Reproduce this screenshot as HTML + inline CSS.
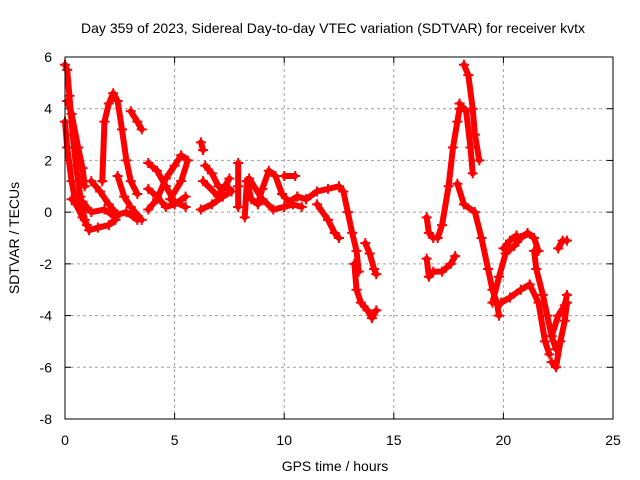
<!DOCTYPE html>
<html><head><meta charset="utf-8"><style>
body{margin:0;background:#fff}
svg{display:block;font-family:"Liberation Sans",sans-serif;font-size:14px}
</style></head><body>
<svg id="chart" width="640" height="480">
<rect width="640" height="480" fill="#fff"/>
<text x="333" y="33" text-anchor="middle">Day 359 of 2023, Sidereal Day-to-day VTEC variation (SDTVAR) for receiver kvtx</text>
<text x="335" y="471" text-anchor="middle">GPS time / hours</text>
<text transform="translate(19,238) rotate(-90)" text-anchor="middle">SDTVAR / TECUs</text>
<g id="grid"></g>
<g id="ticks"></g>
<g id="series"></g>
<rect x="65" y="57" width="548" height="362" fill="none" stroke="#000" stroke-width="1"/>
</svg>
<script>
const xTicks=[0,5,10,15,20,25];
const yTicks=[-8,-6,-4,-2,0,2,4,6];
const track01=[[0.0,5.7],[0.1,5.5],[0.2,4.5],[0.35,3],[0.5,1.8],[0.7,0.6],[0.9,-0.3],[1.1,-0.7],[1.5,-0.6],[2.0,-0.5],[2.3,-0.3]];
const track02=[[0.0,3.5],[0.1,2.5],[0.3,1.2],[0.5,0.3],[0.8,-0.2],[1.0,-0.5]];
const track03=[[0.1,4.3],[0.3,3.8],[0.6,2.5],[0.8,1.7],[0.9,1.0]];
const track04=[[1.7,1.2],[1.8,3.5],[2.0,4.2],[2.2,4.6],[2.4,4.3],[2.6,3.2],[2.8,2.0],[3.0,1.2],[3.3,0.7]];
const track05=[[3.0,3.9],[3.3,3.5],[3.5,3.2]];
const track06=[[1.2,1.2],[1.6,0.8],[2.0,0.3],[2.4,-0.1],[2.8,0],[3.3,-0.3]];
const track07=[[2.4,1.4],[2.7,0.6],[3.0,0.2],[3.5,-0.3]];
const track08=[[0.3,0.5],[0.8,0.4],[1.2,0],[1.8,0.1],[2.3,-0.2]];
const track09=[[3.8,1.9],[4.2,1.6],[4.6,1.0],[5.0,0.4],[5.5,0.2]];
const track10=[[3.8,0.1],[4.2,0.5],[4.6,1.3],[5.0,1.8],[5.3,2.2],[5.6,2.0],[5.3,1.2],[4.8,0.5]];
const track11=[[3.8,0.9],[4.2,0.6],[4.6,0.2],[5.0,0.3],[5.5,0.6]];
const track12=[[6.2,2.7],[6.3,2.4]];
const track13=[[6.4,1.8],[6.7,1.5],[7.0,1.0],[7.5,0.9]];
const track14=[[6.2,0.1],[6.7,0.3],[7.2,0.6],[7.6,0.8]];
const track15=[[6.3,1.2],[7.0,0.6],[7.5,1.3]];
const track16=[[7.9,0.2],[7.9,1.0],[7.9,1.9]];
const track17=[[8.2,-0.2],[8.3,1.2],[8.5,0.5],[8.8,0.3],[9.0,0.9],[9.3,1.6],[9.6,1.4],[9.9,0.7],[10.2,0.4],[10.6,0.6],[11.0,0.5]];
const track18=[[8.4,1.3],[9.0,0.5],[9.5,0.1],[10.0,0.2],[10.4,0.3],[10.8,0.2]];
const track19=[[10.0,1.4],[10.5,1.4]];
const track20=[[10.6,0.6],[11,0.5],[11.5,0.8],[12,0.9],[12.5,1.0],[12.7,0.8],[12.9,0],[13.1,-0.8],[13.3,-1.5],[13.4,-2.3]];
const track21=[[11.5,0.3],[12,-0.3],[12.3,-0.8],[12.5,-1]];
const track22=[[13.7,-1.2],[13.9,-1.6],[14.1,-2.2],[14.2,-2.4]];
const track23=[[13.2,-2.0],[13.3,-3],[13.5,-3.5],[13.8,-3.8],[14.0,-4.1],[14.2,-3.8]];
const track24=[[16.5,-0.2],[16.6,-0.8],[16.8,-1.0]];
const track25=[[16.5,-1.8],[16.6,-2.5],[16.8,-2.3],[17.2,-2.3],[17.6,-2.0],[17.8,-1.7]];
const track26=[[17.0,-1.0],[17.2,-0.5],[17.5,1.0],[17.7,2.5],[17.9,3.5],[18.0,4.0]];
const track27=[[18.2,5.7],[18.4,5.3],[18.6,4.0],[18.7,3.0],[18.9,2.0]];
const track28=[[18.0,4.2],[18.3,3.9],[18.5,2.5],[18.6,1.5]];
const track29=[[17.9,1.1],[18.2,0.3],[18.7,0],[19.0,-1],[19.3,-2.2],[19.5,-3],[19.7,-3.5],[19.8,-4]];
const track30=[[19.9,-3.5],[20.3,-3.3],[20.8,-3.0],[21.2,-2.8]];
const track31=[[19.5,-3.5],[19.8,-2.5],[20.1,-1.6],[20.5,-1.3],[20.8,-1.0],[21.1,-0.8],[21.4,-1.0],[21.6,-1.5]];
const track32=[[21.4,-1.5],[21.5,-2.2],[21.8,-3.2],[22.0,-4.0],[22.2,-4.8],[22.4,-5.3]];
const track33=[[21.2,-2.8],[21.6,-3.5],[21.9,-5],[22.1,-5.5]];
const track34=[[22.2,-5.8],[22.4,-6.0],[22.6,-5.0],[22.8,-4.2],[22.9,-3.5]];
const track35=[[22.2,-4.8],[22.5,-4],[22.8,-3.6],[22.9,-3.2]];
const track36=[[22.5,-1.4],[22.7,-1.1],[22.9,-1.1]];
const track37=[[20.0,-1.4],[20.3,-1.1],[20.6,-0.9]];
const tracks=[track01,track02,track03,track04,track05,track06,track07,track08,track09,track10,track11,track12,track13,track14,track15,track16,track17,track18,track19,track20,track21,track22,track23,track24,track25,track26,track27,track28,track29,track30,track31,track32,track33,track34,track35,track36,track37];

const X0=65,X1=613,Y0=419,Y1=57,XMIN=0,XMAX=25,YMIN=-8,YMAX=6;
function sx(v){return X0+(v-XMIN)/(XMAX-XMIN)*(X1-X0);}
function sy(v){return Y0-(v-YMIN)/(YMAX-YMIN)*(Y0-Y1);}
const NS="http://www.w3.org/2000/svg";
function mk(tag,attrs,parent){const e=document.createElementNS(NS,tag);for(const k in attrs)e.setAttribute(k,attrs[k]);parent.appendChild(e);return e;}
const grid=document.getElementById('grid'),ticks=document.getElementById('ticks'),series=document.getElementById('series');
xTicks.forEach(t=>{
  const x=sx(t);
  if(t>XMIN&&t<XMAX){const g=mk('line',{x1:x,x2:x,y1:Y1,y2:Y0,stroke:'#a0a0a0','stroke-dasharray':'3,3'},grid);
  
  }
  mk('line',{x1:x,x2:x,y1:Y0,y2:Y0-6,stroke:'#000'},ticks);
  mk('line',{x1:x,x2:x,y1:Y1,y2:Y1+6,stroke:'#000'},ticks);
  const l=mk('text',{x:x,y:445,'text-anchor':'middle'},ticks);l.textContent=t;
  
  
});
yTicks.forEach(t=>{
  const y=sy(t);
  if(t>YMIN&&t<YMAX){const g=mk('line',{x1:X0,x2:X1,y1:y,y2:y,stroke:'#a0a0a0','stroke-dasharray':'3,3'},grid);
  
  }
  mk('line',{x1:X0,x2:X0+6,y1:y,y2:y,stroke:'#000'},ticks);
  mk('line',{x1:X1,x2:X1-6,y1:y,y2:y,stroke:'#000'},ticks);
  const l=mk('text',{x:52,y:y+5,'text-anchor':'end'},ticks);l.textContent=t;
  
  
});
tracks.forEach(tr=>{
  const pts=tr.map(p=>sx(p[0])+','+sy(p[1])).join(' ');
  const pl=mk('polyline',{points:pts,fill:'none',stroke:'#f00','stroke-width':6,'stroke-linejoin':'round','stroke-linecap':'round'},series);
  
  
  tr.forEach(p=>{
    const x=sx(p[0]),y=sy(p[1]);
    const m=mk('path',{d:`M${x-5},${y}H${x+5}M${x},${y-5}V${y+5}`,stroke:'#f00','stroke-width':2},series);
    
    
  });
});
</script>
</body></html>
